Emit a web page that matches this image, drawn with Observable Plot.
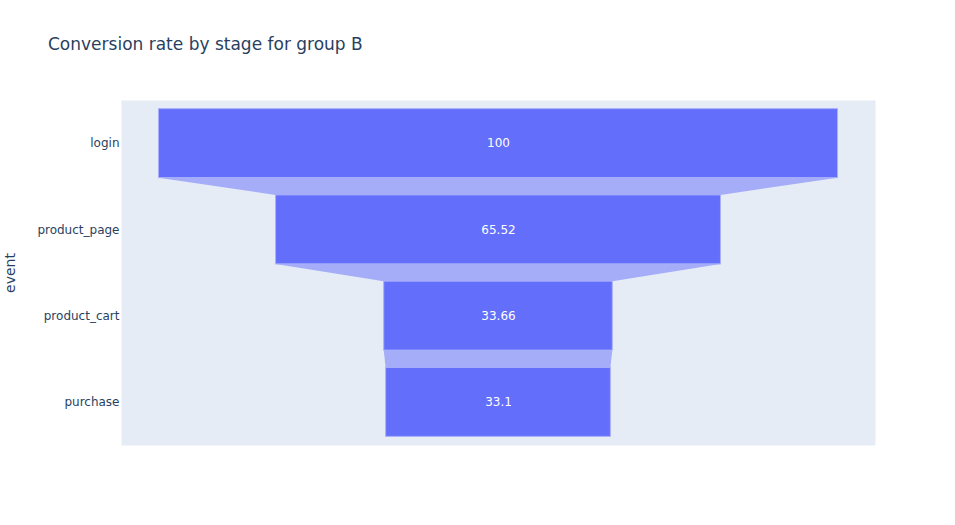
<!DOCTYPE html>
<html>
<head>
<meta charset="utf-8">
<script src="https://cdn.jsdelivr.net/npm/d3@7"></script>
<script src="https://cdn.jsdelivr.net/npm/@observablehq/plot@0.6"></script>
<style>
  html, body { margin: 0; padding: 0; background: #fff; }
  #wrap { position: relative; width: 955px; height: 525px; font-family: "DejaVu Sans", verdana, arial, sans-serif; }
  #title { position: absolute; left: 48px; top: 34px; font-size: 17px; color: #2a3f5f; white-space: nowrap; }
  svg { position: absolute; left: 0; top: 0; }
</style>
</head>
<body>
<div id="wrap"><div id="title">Conversion rate by stage for group B</div></div>
<script>
const stages = ["login", "product_page", "product_cart", "purchase"];
const values = [100, 65.52, 33.66, 33.1];
const labels = ["100", "65.52", "33.66", "33.1"];
const axisTitle = "event";

const bars = stages.map((s, i) => ({stage: s, i, v: values[i], label: labels[i]}));
const half = 0.4;
const connectors = [];
for (let i = 0; i < stages.length - 1; i++) {
  connectors.push({z: i, y: i + half, x1: -values[i] / 2, x2: values[i] / 2});
  connectors.push({z: i, y: i + 1 - half, x1: -values[i + 1] / 2, x2: values[i + 1] / 2});
}

const chart = Plot.plot({
  width: 955,
  height: 525,
  marginLeft: 121,
  marginRight: 80,
  marginTop: 100,
  marginBottom: 80,
  style: {fontFamily: '"DejaVu Sans", verdana, arial, sans-serif', fontSize: "12px", color: "#2a3f5f", background: "transparent"},
  x: {domain: [-55.52, 55.52], axis: null},
  y: {domain: [stages.length - 0.5, -0.5], axis: null},
  marks: [
    Plot.frame({fill: "#e5ecf6", stroke: null}),
    Plot.areaX(connectors, {y: "y", x1: "x1", x2: "x2", z: "z", fill: "#a5acf8", fillOpacity: 1}),
    Plot.rectX(bars, {x1: d => -d.v / 2, x2: d => d.v / 2, y1: d => d.i - half, y2: d => d.i + half, fill: "#636efa", stroke: "#a9b0fb", strokeWidth: 1}),
    Plot.text(bars, {x: 0, y: "i", text: "label", fill: "white", fontSize: 12}),
    Plot.axisY({
      ticks: stages.map((s, i) => i),
      tickFormat: i => stages[i],
      tickSize: 0,
      tickPadding: 2,
      fontSize: 12,
      label: null,
      fill: "#2a3f5f"
    }),
    Plot.text([axisTitle], {text: d => d, frameAnchor: "left", textAnchor: "middle", lineAnchor: "middle", rotate: -90, dx: -111, fontSize: 14, fill: "#2a3f5f"})
  ]
});
document.getElementById("wrap").appendChild(chart);
</script>
</body>
</html>
